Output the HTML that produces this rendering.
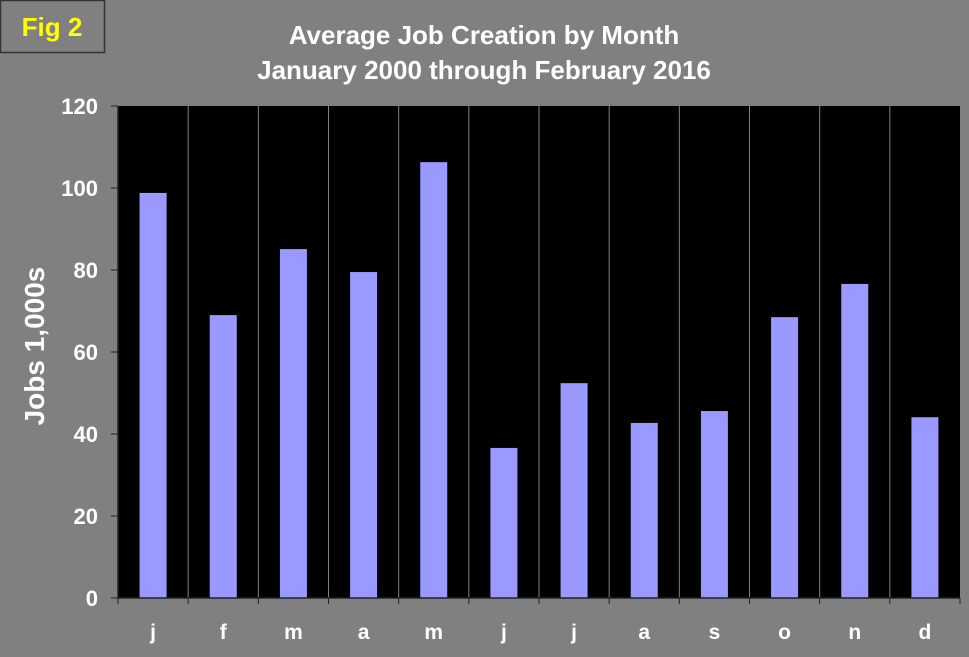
<!DOCTYPE html>
<html><head><meta charset="utf-8"><style>
html,body{margin:0;padding:0;background:#808080;}
svg{display:block;font-family:"Liberation Sans",Arial,sans-serif;}
</style></head><body>
<svg id="chart" width="969" height="657">
<rect x="0" y="0" width="969" height="657" fill="#808080"/>
<rect x="0.5" y="0.5" width="104" height="52" fill="#808080" stroke="#333" stroke-width="1.5"/>
<text x="52" y="36" text-anchor="middle" fill="#ffff00" font-size="26" font-weight="bold">Fig 2</text>
<text x="484" y="44" text-anchor="middle" fill="#fff" font-size="26" font-weight="bold">Average Job Creation by Month</text>
<text x="484" y="79" text-anchor="middle" fill="#fff" font-size="26" font-weight="bold">January 2000 through February 2016</text>
<text transform="translate(44,346) rotate(-90)" text-anchor="middle" fill="#fff" font-size="28" font-weight="bold">Jobs 1,000s</text>
<g id="plot"></g>
</svg>
<script>
const categories=["j","f","m","a","m","j","j","a","s","o","n","d"];
const values=[98.8,69,85.1,79.5,106.3,36.6,52.4,42.7,45.6,68.5,76.6,44.1];
const yTicks=[0,20,40,60,80,100,120];
const L=118,R=960,T=106,B=598,yMax=120;
const ns="http://www.w3.org/2000/svg";
const g=document.getElementById('plot');
const step=(R-L)/categories.length;
function y(v){return B-(v/yMax)*(B-T);}
function x(i){return L+i*step;}
function mk(t,a){const e=document.createElementNS(ns,t);for(const k in a)e.setAttribute(k,a[k]);g.appendChild(e);return e;}
let e=mk('rect',{x:L,y:T,width:R-L,height:B-T,fill:'#000'});


for(let i=1;i<categories.length;i++){
 e=mk('line',{x1:x(i),x2:x(i),y1:T,y2:B,stroke:'#808080','stroke-width':1});
 
 
}
categories.forEach((c,i)=>{
 const bw=27,cx=x(i)+step/2;
 e=mk('rect',{x:cx-bw/2,y:y(values[i]),width:bw,height:B-y(values[i]),fill:'#9999ff'});
 
 
 e=mk('text',{x:cx,y:639,'text-anchor':'middle',fill:'#fff','font-size':21,'font-weight':'bold'});
 e.textContent=c;
 
 
});
for(let i=0;i<=categories.length;i++){
 e=mk('line',{x1:x(i),x2:x(i),y1:B,y2:B+6,stroke:'#222','stroke-width':1});
 
 
}
yTicks.forEach(v=>{
 e=mk('line',{x1:L-7,x2:L,y1:y(v),y2:y(v),stroke:'#222','stroke-width':1});
 
 
 e=mk('text',{x:98,y:y(v)+8,'text-anchor':'end',fill:'#fff','font-size':22,'font-weight':'bold'});
 e.textContent=v;
 
 
});
e=mk('line',{x1:L,x2:R,y1:B,y2:B,stroke:'#222','stroke-width':1.5});


e=mk('line',{x1:L,x2:L,y1:T,y2:B,stroke:'#222','stroke-width':1.5});


</script>
</body></html>
